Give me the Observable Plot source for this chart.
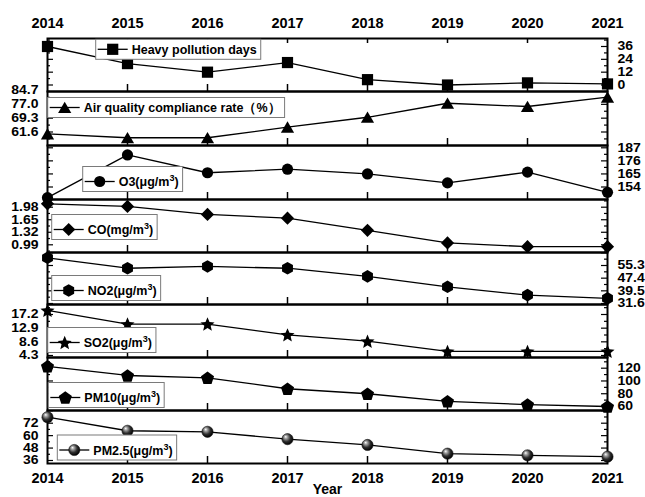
<!DOCTYPE html>
<html>
<head>
<meta charset="utf-8">
<script src="https://cdn.jsdelivr.net/npm/d3@7"></script>
<script src="https://cdn.jsdelivr.net/npm/@observablehq/plot@0.6"></script>
<style>
  body { margin: 0; background: #fff; }
  #chart { position: relative; width: 645px; height: 497px; overflow: hidden; background: #fff; }
  #chart svg { position: absolute; left: 0; top: 0; }
</style>
</head>
<body>
<div id="chart"></div>
<script>
// Years on the shared horizontal axis
const years = [2014, 2015, 2016, 2017, 2018, 2019, 2020, 2021];

// Annual indicators, one array per panel (top to bottom)
const heavyPollutionDays = [36, 20, 12, 21, 5, 0, 2, 1];
const complianceRate     = [60.6, 58.4, 58.4, 64.3, 69.8, 77.6, 75.8, 81.0];
const o3                 = [145, 181, 166, 169, 165, 157.5, 166.5, 149.5];
const co                 = [2.07, 2.00, 1.79, 1.69, 1.37, 1.04, 0.94, 0.94];
const no2                = [60.1, 53.6, 54.7, 53.6, 48.5, 42.0, 36.8, 34.8];
const so2                = [18.5, 14.2, 14.2, 10.8, 8.8, 5.6, 5.6, 5.6];
const pm10               = [123, 108.6, 105, 87.8, 80, 68, 63, 60];
const pm25               = [77.8, 64.7, 63.7, 56.6, 51, 42.6, 41, 39.7];

// Series names shown in each panel's legend box
const seriesNames = [
  "Heavy pollution days",
  "Air quality compliance rate（%）",
  "O3(μg/m³)",
  "CO(mg/m³)",
  "NO2(μg/m³)",
  "SO2(μg/m³)",
  "PM10(μg/m³)",
  "PM2.5(μg/m³)"
];

// Labelled ticks on each panel's value axis
const heavyTicks      = [0, 12, 24, 36];
const complianceTicks = [61.6, 69.3, 77.0, 84.7];
const o3Ticks         = [154, 165, 176, 187];
const coTicks         = [0.99, 1.32, 1.65, 1.98];
const no2Ticks        = [31.6, 39.5, 47.4, 55.3];
const so2Ticks        = [4.3, 8.6, 12.9, 17.2];
const pm10Ticks       = [60, 80, 100, 120];
const pm25Ticks       = [36, 48, 60, 72];

// ---- layout ----
const W = 645, H = 497;
const marginLeft = 47, marginRight = 38;
const innerW = W - marginLeft - marginRight;
const FONT = "'Liberation Sans', Arial, Helvetica, sans-serif";
// pixel rows of the panel borders, top to bottom
const bounds = [38, 91, 145, 199, 252, 304, 357, 410, 463];

// ---- marker shapes (sized so that r = 6 gives the intended glyph) ----
const unit = size => Math.sqrt(size / Math.PI) / 6;
function polygon(c, pts) {
  c.moveTo(pts[0][0], pts[0][1]);
  for (let i = 1; i < pts.length; ++i) c.lineTo(pts[i][0], pts[i][1]);
  c.closePath();
}
function regular(n, R, inner, dy) {
  const pts = [];
  const count = inner ? n * 2 : n;
  for (let i = 0; i < count; ++i) {
    const a = -Math.PI / 2 + i * 2 * Math.PI / count;
    const rr = inner && i % 2 ? R * inner : R;
    pts.push([rr * Math.cos(a), rr * Math.sin(a) + dy]);
  }
  return pts;
}
const symbols = {
  square: {draw(c, s) { const k = unit(s) * 5.6; polygon(c, [[-k, -k], [k, -k], [k, k], [-k, k]]); }},
  triangle: {draw(c, s) { const k = unit(s); polygon(c, [[0, -5.8 * k], [6.6 * k, 5.6 * k], [-6.6 * k, 5.6 * k]]); }},
  circle: {draw(c, s) { const r = unit(s) * 5.6; c.moveTo(r, 0); c.arc(0, 0, r, 0, 2 * Math.PI); c.closePath(); }},
  diamond: {draw(c, s) { const k = unit(s) * 6.6; polygon(c, [[0, -k], [k, 0], [0, k], [-k, 0]]); }},
  hexagon: {draw(c, s) { const k = unit(s); polygon(c, regular(6, 6.3 * k, 0, 0)); }},
  star: {draw(c, s) { const k = unit(s); polygon(c, regular(5, 7.4 * k, 0.45, 0.7 * k)); }},
  pentagon: {draw(c, s) { const k = unit(s); polygon(c, regular(5, 6.9 * k, 0, 0.6 * k)); }},
  sphere: {draw(c, s) { const r = unit(s) * 5.6; c.moveTo(r, 0); c.arc(0, 0, r, 0, 2 * Math.PI); c.closePath(); }}
};

// ---- panel configuration ----
// labelRows: pixel rows of the lowest and the highest labelled tick
const panels = [
  {values: heavyPollutionDays, ticks: heavyTicks,      digits: 0, side: "right", symbol: "square",   labelRows: [84.5, 46],    legendAt: [95.7, 49.3]},
  {values: complianceRate,     ticks: complianceTicks, digits: 1, side: "left",  symbol: "triangle", labelRows: [131.5, 90],   legendAt: [47.7, 107.5]},
  {values: o3,                 ticks: o3Ticks,         digits: 0, side: "right", symbol: "circle",   labelRows: [186.5, 147.3], legendAt: [82.7, 181.5]},
  {values: co,                 ticks: coTicks,         digits: 2, side: "left",  symbol: "diamond",  labelRows: [244.3, 206.7], legendAt: [51.7, 229.5]},
  {values: no2,                ticks: no2Ticks,        digits: 1, side: "right", symbol: "hexagon",  labelRows: [303, 265],    legendAt: [51.7, 290.5]},
  {values: so2,                ticks: so2Ticks,        digits: 1, side: "left",  symbol: "star",     labelRows: [355, 314],    legendAt: [47.7, 342.5]},
  {values: pm10,               ticks: pm10Ticks,       digits: 0, side: "right", symbol: "pentagon", labelRows: [406, 367.7],  legendAt: [48.3, 397.5]},
  {values: pm25,               ticks: pm25Ticks,       digits: 0, side: "left",  symbol: "sphere",   labelRows: [460, 422.7],  legendAt: [57.3, 450]}
];

const chart = document.getElementById("chart");

// minor/major tick rows spanning a panel's full height
function tickRows(p, top, bottom) {
  const tLo = p.ticks[0], tHi = p.ticks[p.ticks.length - 1];
  const [pLo, pHi] = p.labelRows;
  const val = px => tLo + (px - pLo) * (tHi - tLo) / (pHi - pLo);
  const h = (p.ticks[1] - p.ticks[0]) / 2;
  const a = Math.min(val(top), val(bottom)), b = Math.max(val(top), val(bottom));
  const k0 = Math.ceil((a - tLo) / h - 1e-6), k1 = Math.floor((b - tLo) / h + 1e-6);
  const rows = [];
  for (let k = k0; k <= k1; ++k) rows.push({value: tLo + k * h, major: Math.abs(k) % 2 === 0});
  return rows;
}

function legend(svg, p, name) {
  const g = d3.select(svg).append("g").attr("text-anchor", "start");
  const [x0, cy] = p.legendAt;
  const sup = name.includes("³");
  const box = g.append("rect").attr("fill", "white").attr("stroke", "#7a7a7a").attr("stroke-width", 1);
  g.append("line").attr("x1", x0 + 2).attr("x2", x0 + 32).attr("y1", cy).attr("y2", cy)
    .attr("stroke", "black").attr("stroke-width", 1.3);
  g.append("path").attr("d", d3.symbol(symbols[p.symbol], Math.PI * 36)())
    .attr("transform", `translate(${x0 + 17},${cy})`)
    .attr("fill", p.symbol === "sphere" ? "url(#ball)" : "black")
    .attr("stroke", p.symbol === "sphere" ? "#111" : "none").attr("stroke-width", 0.6);
  const text = g.append("text").attr("x", x0 + 36).attr("y", cy).attr("dy", "0.36em")
    .attr("text-anchor", "start")
    .attr("font-family", FONT).attr("font-weight", "bold").attr("font-size", 12.5).attr("fill", "black");
  if (sup) {
    const [before, after] = name.split("³");
    text.append("tspan").text(before);
    text.append("tspan").attr("dy", -5).attr("font-size", 9).text("3");
    text.append("tspan").attr("dy", 5).text(after);
  } else {
    text.text(name);
  }
  const w = text.node().getComputedTextLength();
  box.attr("x", x0).attr("y", cy - (sup ? 15 : 10)).attr("width", 36 + w + 4).attr("height", sup ? 25 : 20);
}

panels.forEach((p, i) => {
  const top = bounds[i], bottom = bounds[i + 1];
  const innerH = bottom - top;
  const rows = years.map((year, j) => ({year, value: p.values[j]}));
  const ticks = tickRows(p, top, bottom);
  const tickInset = len => (p.side === "left" ? {insetRight: innerW - len} : {insetLeft: innerW - len});
  const otherInset = len => (p.side === "left" ? {insetLeft: innerW - len} : {insetRight: innerW - len});
  const isSphere = p.symbol === "sphere";

  const marks = [
    Plot.line(rows, {x: "year", y: "value", stroke: "black", strokeWidth: 1.3}),
    // inward year ticks along the panel bottom
    Plot.tickX(years.slice(1, -1), {x: d => d, insetTop: innerH - 7, stroke: "black", strokeWidth: 1.5}),
    // inward value ticks on both sides
    Plot.tickY(ticks.filter(d => d.major), {y: "value", ...tickInset(6), stroke: "black", strokeWidth: 1.2}),
    Plot.tickY(ticks.filter(d => !d.major), {y: "value", ...tickInset(3), stroke: "black", strokeWidth: 1.2}),
    Plot.tickY(ticks.filter(d => d.major), {y: "value", ...otherInset(6), stroke: "black", strokeWidth: 1.2}),
    Plot.tickY(ticks.filter(d => !d.major), {y: "value", ...otherInset(3), stroke: "black", strokeWidth: 1.2}),
    Plot.frame({stroke: "black", strokeWidth: 2}),
    Plot.dot(rows, {
      x: "year", y: "value", r: 6, symbol: symbols[p.symbol],
      fill: isSphere ? "url(#ball)" : "black",
      stroke: isSphere ? "#111" : "none", strokeWidth: 0.6
    }),
    Plot.axisY({
      anchor: p.side, ticks: p.ticks, tickSize: 0, tickPadding: p.side === "left" ? 9 : 10,
      tickFormat: d => d.toFixed(p.digits), fontWeight: "bold", fontSize: 14, label: null
    })
  ];
  if (i === 0) {
    marks.push(Plot.tickX(years.slice(1, -1), {x: d => d, insetBottom: innerH - 5, stroke: "black", strokeWidth: 1.5}));
    marks.push(Plot.axisX({anchor: "top", ticks: years, tickSize: 0, tickPadding: 11,
      tickFormat: d => String(d), fontWeight: "bold", fontSize: 14.5, label: null}));
  }
  if (i === panels.length - 1) {
    marks.push(Plot.axisX({anchor: "bottom", ticks: years, tickSize: 0, tickPadding: 9,
      tickFormat: d => String(d), fontWeight: "bold", fontSize: 14.5, label: null}));
    marks.push(Plot.text(["Year"], {frameAnchor: "bottom", dy: 21, lineAnchor: "top",
      fontWeight: "bold", fontSize: 14, fill: "black"}));
  }

  const svg = Plot.plot({
    width: W, height: H,
    marginTop: top, marginBottom: H - bottom, marginLeft, marginRight,
    x: {domain: [years[0], years[years.length - 1]], axis: (i === 0 || i === panels.length - 1) ? undefined : null},
    y: {type: "linear", domain: [p.ticks[0], p.ticks[p.ticks.length - 1]], range: p.labelRows},
    style: {fontFamily: FONT, color: "black", background: "transparent", overflow: "visible"},
    marks
  });
  chart.appendChild(svg);

  // the value labels are set slightly condensed in height
  d3.select(svg).selectAll('g[aria-label="y-axis tick label"] text')
    .attr("transform", function () { return (this.getAttribute("transform") || "") + " scale(1,0.87)"; });

  if (i === 0) {
    // shaded ball used by the PM2.5 markers
    const grad = d3.select(svg).append("defs").append("radialGradient")
      .attr("id", "ball").attr("cx", "42%").attr("cy", "40%").attr("r", "60%").attr("fx", "33%").attr("fy", "28%");
    grad.append("stop").attr("offset", "0%").attr("stop-color", "#ffffff");
    grad.append("stop").attr("offset", "22%").attr("stop-color", "#a8a8a8");
    grad.append("stop").attr("offset", "62%").attr("stop-color", "#2e2e2e");
    grad.append("stop").attr("offset", "100%").attr("stop-color", "#000000");
  }
  legend(svg, p, seriesNames[i]);
});
</script>
</body>
</html>
